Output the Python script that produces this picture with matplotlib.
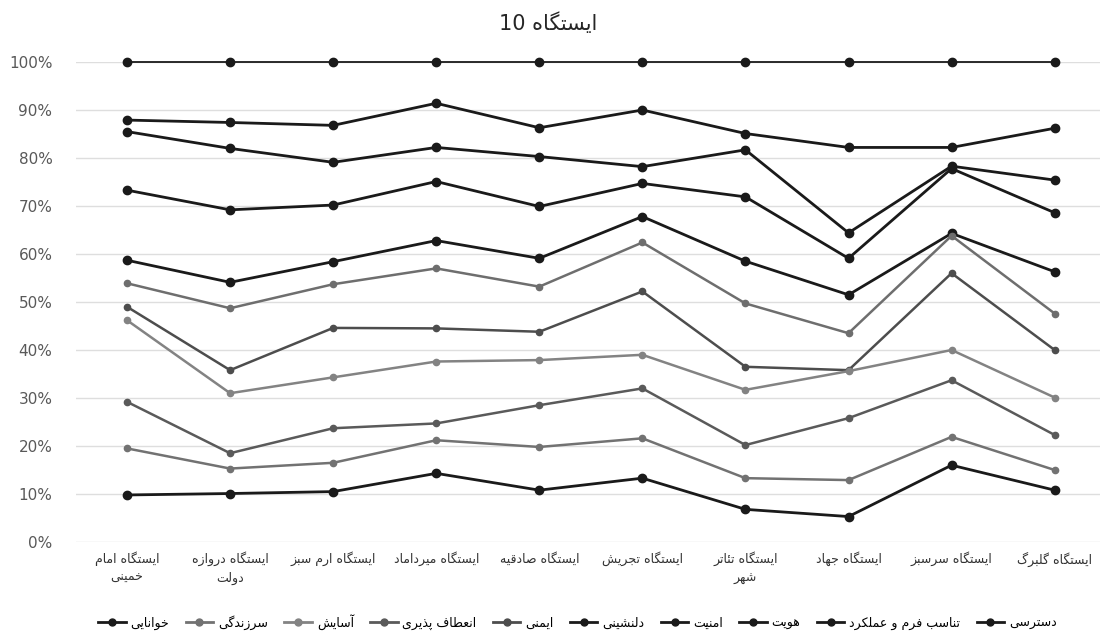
import numpy as np
import matplotlib
matplotlib.use("Agg")
import matplotlib.pyplot as plt
from matplotlib.lines import Line2D
from matplotlib.ticker import PercentFormatter

# ---------------- data ----------------
categories = [
    "ایستگاه امام\nخمینی", "ایستگاه دروازه\nدولت", "ایستگاه ارم سبز",
    "ایستگاه میرداماد", "ایستگاه صادقیه", "ایستگاه تجریش",
    "ایستگاه تئاتر\nشهر", "ایستگاه جهاد", "ایستگاه سرسبز", "ایستگاه گلبرگ",
]
title_text = "ایستگاه"
title_num = "10"

# cumulative (100% stacked) levels, in %
dastresi = [100, 100, 100, 100, 100, 100, 100, 100, 100, 100]
tanasob = [87.9, 87.4, 86.8, 91.4, 86.3, 90.0, 85.1, 82.2, 82.2, 86.2]
hoviat = [85.5, 82.0, 79.1, 82.2, 80.3, 78.2, 81.7, 64.4, 78.3, 75.4]
amniat = [73.3, 69.2, 70.2, 75.1, 69.9, 74.7, 71.9, 59.1, 77.8, 68.6]
delneshini = [58.7, 54.1, 58.4, 62.8, 59.1, 67.8, 58.5, 51.5, 64.3, 56.3]
extra = [53.9, 48.7, 53.7, 57.0, 53.2, 62.4, 49.7, 43.5, 63.8, 47.6]
imeni = [49.0, 35.8, 44.6, 44.5, 43.8, 52.2, 36.5, 35.8, 56.0, 40.0]
asayesh = [46.2, 31.0, 34.3, 37.6, 37.9, 39.0, 31.7, 35.6, 40.0, 30.1]
enetaf = [29.2, 18.5, 23.7, 24.7, 28.5, 32.0, 20.2, 25.8, 33.7, 22.3]
sarzendegi = [19.5, 15.3, 16.5, 21.2, 19.8, 21.6, 13.3, 12.9, 21.9, 15.0]
khanayi = [9.8, 10.1, 10.5, 14.3, 10.8, 13.3, 6.8, 5.3, 16.0, 10.8]

legend_labels = ["خوانایی", "سرزندگی", "آسایش", "انعطاف پذیری", "ایمنی",
                 "دلنشینی", "امنیت", "هویت", "تناسب فرم و عملکرد", "دسترسی"]

# ---------------- persian shaping ----------------
FORMS = {
    'ا': ('\uFE8D', '\uFE8E', None, None), 'آ': ('\uFE81', '\uFE82', None, None),
    'ب': ('\uFE8F', '\uFE90', '\uFE91', '\uFE92'), 'پ': ('\uFB56', '\uFB57', '\uFB58', '\uFB59'),
    'ت': ('\uFE95', '\uFE96', '\uFE97', '\uFE98'), 'ث': ('\uFE99', '\uFE9A', '\uFE9B', '\uFE9C'),
    'ج': ('\uFE9D', '\uFE9E', '\uFE9F', '\uFEA0'), 'چ': ('\uFB7A', '\uFB7B', '\uFB7C', '\uFB7D'),
    'ح': ('\uFEA1', '\uFEA2', '\uFEA3', '\uFEA4'), 'خ': ('\uFEA5', '\uFEA6', '\uFEA7', '\uFEA8'),
    'د': ('\uFEA9', '\uFEAA', None, None), 'ذ': ('\uFEAB', '\uFEAC', None, None),
    'ر': ('\uFEAD', '\uFEAE', None, None), 'ز': ('\uFEAF', '\uFEB0', None, None),
    'ژ': ('\uFB8A', '\uFB8B', None, None),
    'س': ('\uFEB1', '\uFEB2', '\uFEB3', '\uFEB4'), 'ش': ('\uFEB5', '\uFEB6', '\uFEB7', '\uFEB8'),
    'ص': ('\uFEB9', '\uFEBA', '\uFEBB', '\uFEBC'), 'ض': ('\uFEBD', '\uFEBE', '\uFEBF', '\uFEC0'),
    'ط': ('\uFEC1', '\uFEC2', '\uFEC3', '\uFEC4'), 'ظ': ('\uFEC5', '\uFEC6', '\uFEC7', '\uFEC8'),
    'ع': ('\uFEC9', '\uFECA', '\uFECB', '\uFECC'), 'غ': ('\uFECD', '\uFECE', '\uFECF', '\uFED0'),
    'ف': ('\uFED1', '\uFED2', '\uFED3', '\uFED4'), 'ق': ('\uFED5', '\uFED6', '\uFED7', '\uFED8'),
    'ک': ('\uFB8E', '\uFB8F', '\uFB90', '\uFB91'), 'گ': ('\uFB92', '\uFB93', '\uFB94', '\uFB95'),
    'ل': ('\uFEDD', '\uFEDE', '\uFEDF', '\uFEE0'), 'م': ('\uFEE1', '\uFEE2', '\uFEE3', '\uFEE4'),
    'ن': ('\uFEE5', '\uFEE6', '\uFEE7', '\uFEE8'), 'ه': ('\uFEE9', '\uFEEA', '\uFEEB', '\uFEEC'),
    'و': ('\uFEED', '\uFEEE', None, None), 'ی': ('\uFBFC', '\uFBFD', '\uFBFE', '\uFBFF'),
    'ئ': ('\uFE89', '\uFE8A', '\uFE8B', '\uFE8C'),
}


def _dual(c):
    return c in FORMS and FORMS[c][2] is not None


def shape_line(s):
    out = []
    for i, c in enumerate(s):
        if c not in FORMS:
            out.append(c)
            continue
        prev_c = s[i - 1] if i > 0 else ''
        next_c = s[i + 1] if i + 1 < len(s) else ''
        jp = _dual(prev_c)
        jn = _dual(c) and next_c in FORMS
        iso, fin, ini, med = FORMS[c]
        if jp and jn:
            out.append(med)
        elif jp:
            out.append(fin)
        elif jn:
            out.append(ini)
        else:
            out.append(iso)
    return ''.join(out)[::-1]


def fa(s):
    return '\n'.join(shape_line(line) for line in s.split('\n'))


# ---------------- plot ----------------
plt.rcParams['font.family'] = ['DejaVu Sans']

fig = plt.figure(figsize=(11, 6.34), dpi=100)
ax = fig.add_axes([76 / 1100, (634 - 542) / 634, 1 - 76 / 1100, 480 / 634])

x = np.arange(len(categories))

BLACK = '#1a1a1a'
series = [
    (dastresi, BLACK, legend_labels[9], 1.3),
    (tanasob, BLACK, legend_labels[8], 2.0),
    (hoviat, BLACK, legend_labels[7], 2.0),
    (amniat, BLACK, legend_labels[6], 2.0),
    (delneshini, BLACK, legend_labels[5], 2.0),
    (extra, '#6e6e6e', None, 1.8),
    (imeni, '#4d4d4d', legend_labels[4], 1.8),
    (asayesh, '#838383', legend_labels[2], 1.8),
    (enetaf, '#5a5a5a', legend_labels[3], 1.8),
    (sarzendegi, '#727272', legend_labels[1], 1.8),
    (khanayi, BLACK, legend_labels[0], 2.0),
]

colors = {}
for vals, col, lab, lw in series:
    is_black = col == BLACK
    ax.plot(x, np.array(vals) / 100.0, color=col, lw=lw,
            marker='o', ms=6 if is_black else 4.5, mfc=col, mec=col,
            clip_on=False, zorder=3)
    if lab:
        colors[lab] = col

ax.set_xlim(-0.495, 9.44)
ax.set_ylim(0, 1)
ax.set_yticks(np.arange(0, 1.01, 0.1))
ax.yaxis.set_major_formatter(PercentFormatter(1.0, decimals=0))
ax.grid(axis='y', color='#dedede', lw=1.0, zorder=0)
ax.set_axisbelow(True)
for sp in ax.spines.values():
    sp.set_visible(False)
ax.tick_params(axis='y', length=0, pad=17, labelsize=11, labelcolor='#595959')
ax.tick_params(axis='x', length=0, pad=7, labelsize=9, labelcolor='#333333')
ax.set_xticks(x)
ax.set_xticklabels([fa(c) for c in categories], linespacing=1.5)

fig.text(0.498, 0.963, title_num + " " + fa(title_text), ha='center', va='center',
         fontsize=15, color='#262626')

leg_handles = [Line2D([0], [0], color=colors[l], lw=2, marker='o', ms=5)
               for l in legend_labels]
fig.legend(leg_handles, [fa(l) for l in legend_labels], loc='center',
           bbox_to_anchor=(0.525, 0.019), ncol=10, frameon=False, fontsize=9,
           handlelength=2.2, handletextpad=0.4, columnspacing=1.3)

fig.savefig('out.png', dpi=100)
